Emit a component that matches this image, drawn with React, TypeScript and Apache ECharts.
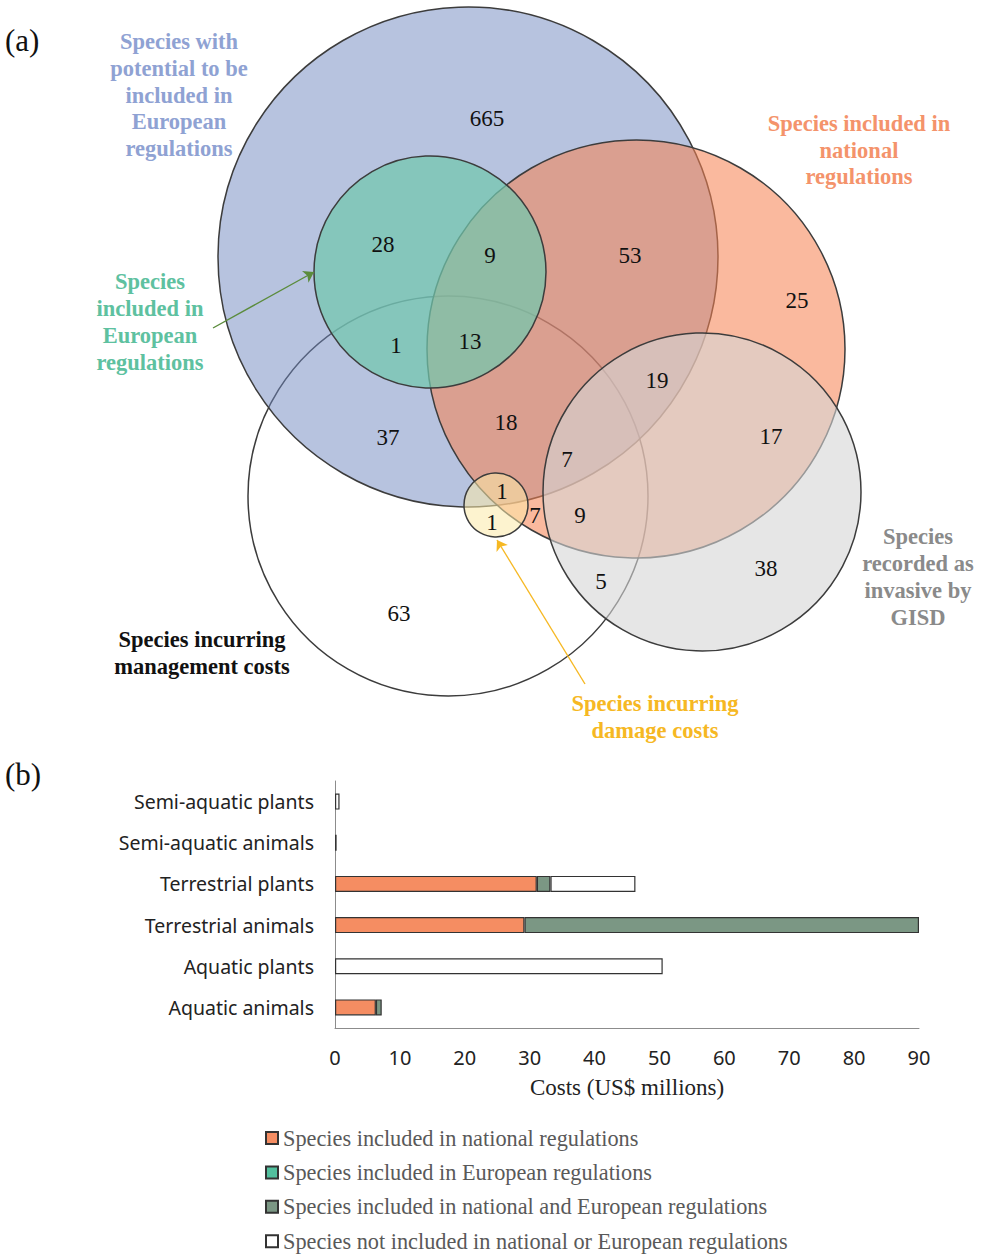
import React, { useEffect, useRef } from "react";
import * as echarts from "echarts";

// ---------- Panel (a): Venn diagram ----------
const vennSetNames = [
  "Species incurring\nmanagement costs",
  "Species with\npotential to be\nincluded in\nEuropean\nregulations",
  "Species included in\nnational\nregulations",
  "Species\nincluded in\nEuropean\nregulations",
  "Species\nrecorded as\ninvasive by\nGISD",
  "Species incurring\ndamage costs",
];
const vennSetLabelColors = ["#111111", "#8fa2d3", "#f4936b", "#5ec1a0", "#8a8a8a", "#f6b823"];
// circle layout [cx, cy, r] in diagram units
const vennCircleLayout = [
  [448, 496, 200],
  [468, 257, 250],
  [636, 349, 209],
  [430, 272, 116],
  [702, 492, 159],
  [496, 505, 32],
];
const vennCircleFills = [
  "#ffffff",
  "rgba(111,135,192,0.5)",
  "rgba(246,130,82,0.56)",
  "rgba(113,199,173,0.72)",
  "rgba(213,213,213,0.6)",
  "rgba(251,233,168,0.55)",
];
const vennSetLabelLayout = [
  [202, 653],
  [179, 95],
  [859, 150],
  [150, 322],
  [918, 577],
  [655, 717],
];
const vennCounts = [665, 28, 9, 53, 25, 1, 13, 19, 18, 37, 17, 7, 1, 7, 9, 1, 5, 38, 63];
const vennCountLayout = [
  [487, 118],
  [383, 244],
  [490, 255],
  [630, 255],
  [797, 300],
  [396, 345],
  [470, 341],
  [657, 380],
  [506, 422],
  [388, 437],
  [771, 436],
  [567, 459],
  [502, 491],
  [535, 515],
  [580, 515],
  [492, 522],
  [601, 581],
  [766, 568],
  [399, 613],
];
const vennArrows = [
  { from: [213, 328], to: [314, 272], color: "#5b8c3c" },
  { from: [585, 684], to: [497, 540], color: "#f6b823" },
];

// ---------- Panel (b): stacked bars ----------
const categories = [
  "Semi-aquatic plants",
  "Semi-aquatic animals",
  "Terrestrial plants",
  "Terrestrial animals",
  "Aquatic plants",
  "Aquatic animals",
];
const seriesNames = [
  "Species included in national regulations",
  "Species included in European regulations",
  "Species included in national and European regulations",
  "Species not included in national or European regulations",
];
const nationalCosts = [0, 0, 31.1, 29.2, 0, 6.3];
const europeanCosts = [0, 0, 0, 0, 0, 0];
const bothCosts = [0, 0, 2.1, 60.8, 0, 0.9];
const noneCosts = [0.7, 0.25, 13.1, 0, 50.5, 0];
const seriesColors = ["#f58d62", "#52c09e", "#7b9784", "#ffffff"];
const xTicks = [0, 90, 10];

const SERIF = '"Liberation Serif", "Times New Roman", serif';
const SANS = '"Noto Sans", "Open Sans", sans-serif';

export default function App() {
  const ref = useRef<HTMLDivElement>(null);
  useEffect(() => {
    document.body.style.margin = "0";
    if (!ref.current) return;
    const chart = echarts.init(ref.current, null, { renderer: "svg" });
    const stacks = [nationalCosts, europeanCosts, bothCosts, noneCosts];
    const barSeries = stacks.map((vals, i) => ({
      name: seriesNames[i],
      type: "bar",
      stack: "costs",
      xAxisIndex: 1,
      yAxisIndex: 1,
      barWidth: 16,
      silent: true,
      itemStyle: { color: seriesColors[i], borderColor: "#333333", borderWidth: 1.2 },
      data: vals.map((v) => (v === 0 ? "-" : v)),
      z: 2,
    }));

    const option: any = {
      animation: false,
      backgroundColor: "#ffffff",
      grid: [
        { left: 0, top: 0, width: 986, height: 760, show: false },
        { left: 335, top: 781, width: 584, height: 247 },
      ],
      xAxis: [
        { type: "value", gridIndex: 0, min: 0, max: 986, show: false },
        {
          type: "value",
          gridIndex: 1,
          min: xTicks[0],
          max: xTicks[1],
          interval: xTicks[2],
          axisLine: { show: true, lineStyle: { color: "#8c8c8c", width: 1 } },
          axisTick: { show: false },
          splitLine: { show: false },
          axisLabel: { color: "#222222", fontFamily: SANS, fontSize: 20, margin: 19 },
          name: "Costs (US$ millions)",
          nameLocation: "middle",
          nameGap: 48,
          nameTextStyle: { color: "#222222", fontFamily: SERIF, fontSize: 23 },
        },
      ],
      yAxis: [
        { type: "value", gridIndex: 0, min: 0, max: 760, inverse: true, show: false },
        {
          type: "category",
          gridIndex: 1,
          inverse: true,
          data: categories,
          axisLine: { show: true, lineStyle: { color: "#8c8c8c", width: 1 } },
          axisTick: { show: false },
          axisLabel: { color: "#222222", fontFamily: SANS, fontSize: 19.5, margin: 21 },
        },
      ],
      legend: {
        data: seriesNames,
        orient: "vertical",
        left: 265,
        top: 1127,
        height: 300,
        padding: 0,
        itemWidth: 12,
        itemHeight: 12,
        itemGap: 12.4,
        icon: "rect",
        selectedMode: false,
        textStyle: { color: "#595959", fontFamily: SERIF, fontSize: 22.3, lineHeight: 22 },
      },
      graphic: [
        {
          type: "text",
          left: 5,
          top: 25,
          style: { text: "(a)", font: `31px ${SERIF}`, fill: "#111111" },
        },
        {
          type: "text",
          left: 5,
          top: 759,
          style: { text: "(b)", font: `31px ${SERIF}`, fill: "#111111" },
        },
      ],
      series: [
        {
          type: "custom",
          name: "circles",
          xAxisIndex: 0,
          yAxisIndex: 0,
          silent: true,
          z: 1,
          data: vennCircleLayout.map((c, i) => [c[0], c[1], c[2], i]),
          encode: { x: 0, y: 1 },
          renderItem: (_p: any, api: any) => {
            const i = api.value(3);
            const p = api.coord([api.value(0), api.value(1)]);
            const r = Math.abs(api.size([api.value(2), 0])[0]);
            return {
              type: "circle",
              shape: { cx: p[0], cy: p[1], r },
              style: { fill: vennCircleFills[i], stroke: "#3c3c3c", lineWidth: 1.5 },
            };
          },
        },
        {
          type: "lines",
          coordinateSystem: "cartesian2d",
          xAxisIndex: 0,
          yAxisIndex: 0,
          silent: true,
          z: 3,
          symbol: ["none", "arrow"],
          symbolSize: 10,
          data: vennArrows.map((a) => ({
            coords: [a.from, a.to],
            lineStyle: { color: a.color, width: 1.4, opacity: 1 },
          })),
        },
        {
          type: "custom",
          name: "counts",
          xAxisIndex: 0,
          yAxisIndex: 0,
          silent: true,
          z: 4,
          data: vennCountLayout.map((c, i) => [c[0], c[1], i]),
          encode: { x: 0, y: 1 },
          renderItem: (_p: any, api: any) => {
            const i = api.value(2);
            const p = api.coord([api.value(0), api.value(1)]);
            return {
              type: "text",
              x: p[0],
              y: p[1],
              style: {
                text: String(vennCounts[i]),
                fill: "#111111",
                font: `23px ${SERIF}`,
                align: "center",
                verticalAlign: "middle",
              },
            };
          },
        },
        {
          type: "custom",
          name: "setLabels",
          xAxisIndex: 0,
          yAxisIndex: 0,
          silent: true,
          z: 4,
          data: vennSetLabelLayout.map((c, i) => [c[0], c[1], i]),
          encode: { x: 0, y: 1 },
          renderItem: (_p: any, api: any) => {
            const i = api.value(2);
            const p = api.coord([api.value(0), api.value(1)]);
            return {
              type: "text",
              x: p[0],
              y: p[1],
              style: {
                text: vennSetNames[i],
                fill: vennSetLabelColors[i],
                font: `bold 22.5px ${SERIF}`,
                lineHeight: 26.7,
                align: "center",
                verticalAlign: "middle",
              },
            };
          },
        },
        ...barSeries,
      ],
    };
    chart.setOption(option);
    return () => chart.dispose();
  }, []);
  return <div ref={ref} style={{ width: 986, height: 1255 }} />;
}
